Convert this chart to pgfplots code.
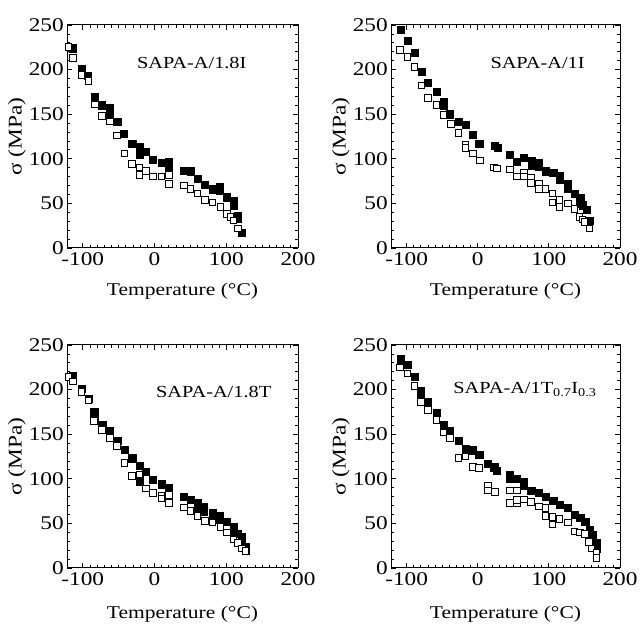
\documentclass[border=0pt]{standalone}
\usepackage{fontspec}
\setmainfont{Liberation Serif}[FakeStretch=1.2]
\usepackage{pgfplots}
\pgfplotsset{compat=1.18}
\pgfplotsset{
  panel/.style={
    scale only axis, width=231bp, height=223bp,
    xmin=-122, xmax=200, ymin=0, ymax=250,
    xtick={-100,0,100,200}, ytick={0,50,100,150,200,250},
    minor x tick num=9, minor y tick num=4,
    tick align=inside, tick pos=both,
    major tick length=5bp, minor tick length=3bp,
    axis line style={line width=1bp},
    every tick/.style={black, line width=0.8bp},
    /pgf/number format/assume math mode=true,
    tick label style={font=\fontsize{19.5}{22}\selectfont},
    xticklabel style={inner sep=2bp, yshift=-2bp},
    yticklabel style={inner sep=2bp, xshift=-1bp},
    label style={font=\fontsize{18}{20}\selectfont},
    xlabel={Temperature (°C)}, ylabel={σ (MPa)},
    xlabel style={at={(rel axis cs:0.5,0)}, anchor=center, yshift=-43bp},
    ylabel style={at={(rel axis cs:0,0.5)}, anchor=center, yshift=50bp, font=\fontsize{19.5}{22}\selectfont},
    clip=false,
  },
  filled/.style={only marks, mark=square*, mark size=3.6, mark options={fill=black, draw=black}},
  open/.style={only marks, mark=square*, mark size=3.3, mark options={fill=white, draw=black, line width=1bp}},
}
\begin{document}
\begin{tikzpicture}[x=1bp,y=1bp]
\useasboundingbox (0,0) rectangle (643,624);
% Panel 1
\begin{axis}[panel, at={(67bp,376bp)}, anchor=south west]
\addplot[filled] coordinates {(-114,224)(-102,201)(-93,193)(-83,170)(-74,160)(-62,157)(-62,150)(-52,142)(-43,128)(-31,117)(-21,113)(-21,105)(-12,108)(-2,99)(10,96)(20,97)(20,90)(41,87)(50,86)(60,78)(70,71)(81,66)(91,69)(91,64)(101,57)(110,53)(110,47)(116,36)(116,33)(122,17)};
\addplot[open] coordinates {(-120,225)(-114,213)(-102,194)(-92,187)(-83,161)(-73,148)(-62,142)(-52,126)(-42,106)(-31,94)(-21,90)(-21,82)(-12,86)(-2,80)(10,80)(20,82)(20,72)(41,70)(50,66)(60,61)(70,54)(81,51)(92,46)(101,38)(106,35)(110,31)(116,22)};
\node[font=\fontsize{17}{20}\selectfont] at (rel axis cs:0.54,0.83) {SAPA-A/1.8I};
\end{axis}
% Panel 2
\begin{axis}[panel, width=229bp, at={(391bp,376bp)}, anchor=south west]
\addplot[filled] coordinates {(-108,245)(-99,232)(-89,219)(-79,198)(-70,185)(-58,175)(-48,164)(-48,160)(-39,150)(-27,142)(-17,138)(-7,127)(2,117)(24,115)(28,112)(45,105)(55,97)(65,101)(76,98)(76,92)(86,96)(86,91)(95,86)(106,84)(115,81)(115,77)(127,72)(127,67)(136,61)(144,56)(143,50)(147,48)(153,43)(157,31)};
\addplot[open] coordinates {(-109,222)(-99,214)(-89,203)(-79,182)(-70,168)(-58,160)(-48,149)(-38,139)(-27,129)(-17,116)(-17,112)(-7,106)(3,98)(23,90)(27,89)(45,88)(55,80)(65,84)(65,80)(75,79)(75,73)(86,72)(86,66)(95,66)(105,61)(105,51)(115,54)(115,46)(127,50)(136,44)(143,35)(147,32)(150,29)(157,22)};
\node[font=\fontsize{17}{20}\selectfont] at (rel axis cs:0.64,0.83) {SAPA-A/1I};
\end{axis}
% Panel 3
\begin{axis}[panel, at={(67bp,56bp)}, anchor=south west, xlabel style={yshift=-3bp}]
\addplot[filled] coordinates {(-114,216)(-102,201)(-92,190)(-84,175)(-84,170)(-73,161)(-62,154)(-62,148)(-52,143)(-42,133)(-31,123)(-21,115)(-21,105)(-21,97)(-12,108)(-2,99)(10,94)(20,90)(20,86)(41,80)(50,77)(60,73)(60,67)(69,69)(69,63)(81,62)(81,58)(91,59)(91,54)(100,52)(110,46)(110,40)(116,38)(122,35)(122,28)(127,24)(127,19)};
\addplot[open] coordinates {(-120,214)(-114,209)(-102,197)(-92,188)(-84,165)(-73,155)(-62,146)(-52,137)(-42,118)(-31,103)(-21,105)(-12,89)(-2,84)(10,81)(10,78)(20,82)(20,73)(41,68)(50,64)(60,58)(70,53)(81,51)(92,46)(101,40)(110,32)(116,28)(122,22)(127,19)};
\node[font=\fontsize{17}{20}\selectfont] at (rel axis cs:0.635,0.79) {SAPA-A/1.8T};
\end{axis}
% Panel 4
\begin{axis}[panel, width=229bp, at={(391bp,56bp)}, anchor=south west, xlabel style={yshift=-3bp}]
\addplot[filled] coordinates {(-108,234)(-99,228)(-89,214)(-80,199)(-80,195)(-70,186)(-58,174)(-48,161)(-39,154)(-39,151)(-27,143)(-17,134)(-7,132)(2,127)(14,117)(23,113)(27,109)(45,105)(45,100)(55,100)(65,97)(65,92)(75,87)(86,84)(95,80)(106,75)(115,71)(127,68)(136,60)(144,56)(151,52)(157,43)(162,37)(167,28)(167,22)};
\addplot[open] coordinates {(-109,225)(-99,218)(-89,204)(-80,186)(-70,177)(-58,166)(-48,152)(-39,146)(-27,123)(-17,125)(-7,113)(2,112)(14,92)(14,87)(24,85)(45,87)(55,87)(45,73)(55,73)(55,76)(65,77)(75,74)(86,69)(95,67)(95,58)(105,57)(105,49)(115,55)(127,51)(136,41)(144,40)(151,38)(156,29)(160,22)(167,17)(167,11)};
\node[font=\fontsize{17}{20}\selectfont] at (rel axis cs:0.585,0.80) {SAPA-A/1T\textsubscript{0.7}I\textsubscript{0.3}};
\end{axis}
\end{tikzpicture}
\end{document}
